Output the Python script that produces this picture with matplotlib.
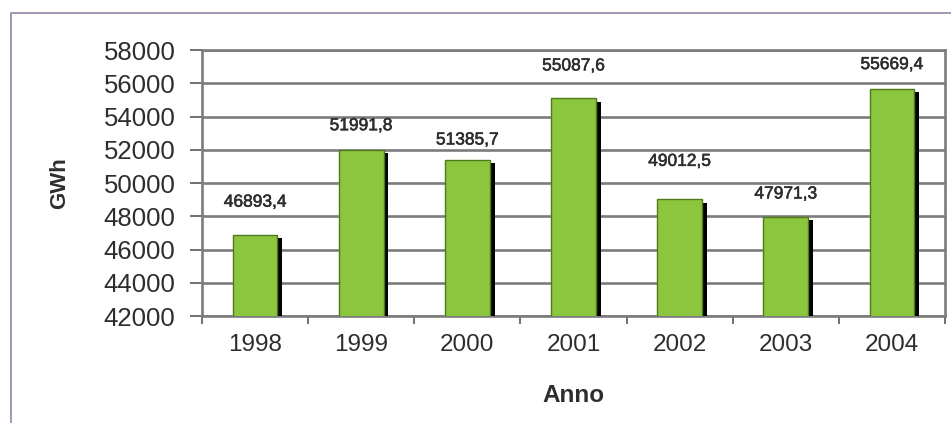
import matplotlib
matplotlib.use("Agg")
import matplotlib.pyplot as plt
import matplotlib.patheffects as pe
from matplotlib.lines import Line2D

# dati
anni = ["1998", "1999", "2000", "2001", "2002", "2003", "2004"]
gwh = [46893.4, 51991.8, 51385.7, 55087.6, 49012.5, 47971.3, 55669.4]
# distanza etichetta-barra in punti (come nell'originale, un po' irregolare)
offset_etichette = [18, 12, 9, 18, 22, 11, 12]

plt.rcParams['font.family'] = ['Liberation Sans', 'DejaVu Sans']

fig = plt.figure(figsize=(9.51, 4.23), dpi=100)
fig.patch.set_facecolor('white')
ax = fig.add_axes([202/951, 1-316/423, (945-202)/951, (316-50)/423])

x = range(len(anni))
ombra = [pe.SimplePatchShadow(offset=(3.5, -2.5), shadow_rgbFace='black', alpha=1.0), pe.Normal()]
barre = ax.bar(x, gwh, width=0.42, color='#8cc63e', edgecolor='#4f7a1c',
               linewidth=1.0, zorder=3)
for b in barre:
    b.set_path_effects(ombra)

for i, v in enumerate(gwh):
    testo = f"{v:.1f}".replace(".", ",")
    ax.annotate(testo, (i, v), xytext=(0, offset_etichette[i]), textcoords='offset points',
                ha='center', va='bottom', fontsize=12.5, color='#2e2e2e', zorder=4,
                path_effects=[pe.withStroke(linewidth=0.4, foreground='#2e2e2e')])

ax.set_ylim(42000, 58000)
ax.set_xlim(-0.5, len(anni) - 0.5)
ax.set_yticks(range(42000, 58001, 2000))
ax.yaxis.grid(True, color='#7c7c7c', linewidth=1.9, zorder=0)
ax.set_axisbelow(True)

ax.set_xticks(list(x))
ax.set_xticklabels(anni)
ax.set_xticks([i - 0.5 for i in range(len(anni) + 1)], minor=True)
ax.tick_params(axis='x', which='major', length=0, pad=13, labelsize=17.5, labelcolor='#2e2e2e')
ax.tick_params(axis='x', which='minor', length=6, width=1.4, color='#707070', direction='out')
ax.tick_params(axis='y', length=9, width=1.4, color='#707070', pad=10, labelsize=18.5,
               labelcolor='#2e2e2e')

for s in ax.spines.values():
    s.set_color('#7c7c7c')
    s.set_linewidth(1.9)

ax.set_ylabel("GWh", fontsize=16, fontweight='bold', color='#2e2e2e', labelpad=24)
ax.set_xlabel("Anno", fontsize=17.5, fontweight='bold', color='#2e2e2e', labelpad=20)

# cornice esterna
fig.add_artist(Line2D([11/951, 11/951, 1.0], [0.0, 1-13/423, 1-13/423],
                      transform=fig.transFigure, color='#9484a4', linewidth=1.2))

fig.savefig("out.png", dpi=100)
